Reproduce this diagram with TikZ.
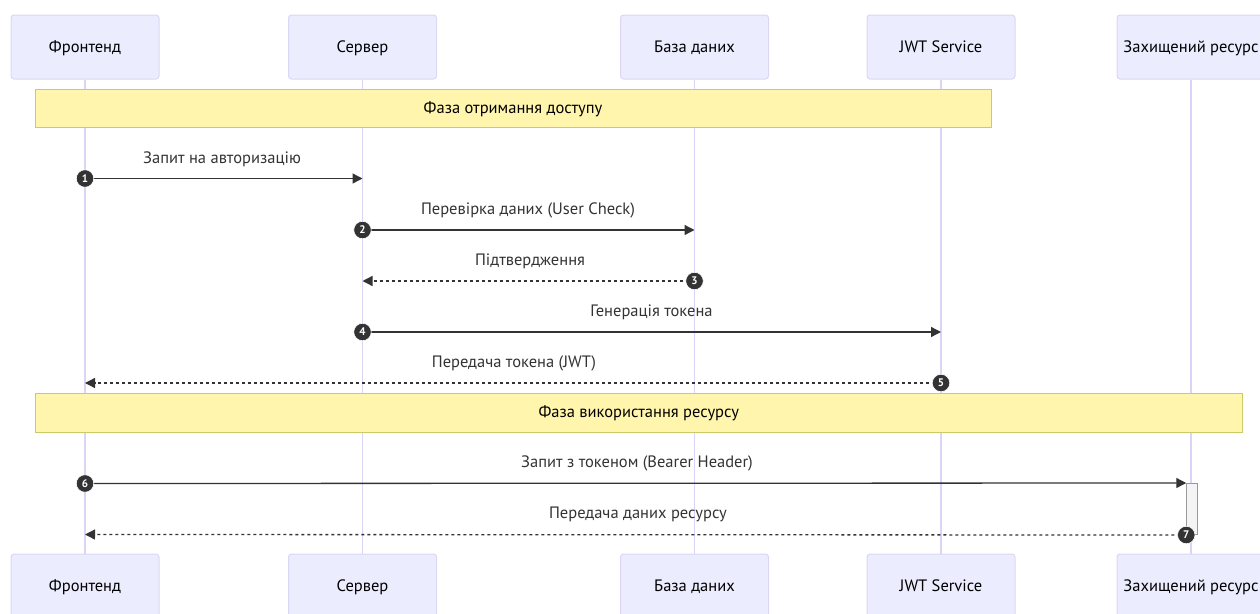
\documentclass[tikz,border=0pt]{standalone}
\usepackage{fontspec}
\setmainfont{PT Sans}
\usetikzlibrary{arrows.meta}

\definecolor{actorfill}{HTML}{ECECFF}
\definecolor{actorline}{HTML}{DCD6F5}
\definecolor{lifeline}{HTML}{DCD3F7}
\definecolor{notefill}{HTML}{FFF5AD}
\definecolor{noteline}{HTML}{CCCC66}
\definecolor{ink}{HTML}{333333}
\definecolor{actfill}{HTML}{F4F4F4}
\definecolor{actline}{HTML}{999999}

\tikzset{
  actor/.style={draw=actorline, fill=actorfill, line width=1pt, rounded corners=3pt,
    minimum width=148pt, minimum height=64pt, inner sep=0pt,
    text height=13pt, text depth=3pt,
    font=\fontsize{16.5}{19}\selectfont, text=black},
  life/.style={draw=lifeline, line width=1.3pt},
  note/.style={draw=noteline, fill=notefill, line width=1pt, inner sep=0pt,
    text height=12.5pt, text depth=3.5pt,
    font=\fontsize{16.5}{19}\selectfont, text=black},
  msg/.style={draw=ink, line width=1.3pt, -{Triangle[length=10pt,width=10pt]}},
  reply/.style={msg, dash pattern=on 3pt off 3pt},
  lbl/.style={anchor=base, inner sep=0pt, text=ink, font=\fontsize{16.5}{19}\selectfont},
  seq/.style={circle, fill=ink, draw=white, line width=0.6pt, minimum size=17.5pt, inner sep=0pt,
    text=white, font=\fontsize{11}{12}\selectfont\bfseries},
  activ/.style={draw=actline, fill=actfill, line width=1pt, minimum width=10.5pt, inner sep=0pt}
}

\begin{document}
\begin{tikzpicture}[x=1pt,y=-1pt]
  \useasboundingbox (0,0) rectangle (1260,613);

  % participants, top and bottom rows
  \node[actor] (fe)  at (85,47)    {Фронтенд};
  \node[actor] (sv)  at (362.5,47) {Сервер};
  \node[actor] (db)  at (694.5,47) {База даних};
  \node[actor] (jwt) at (941,47)   {JWT Service};
  \node[actor] (res) at (1191,47)  {Захищений ресурс};

  \node[actor] (feB)  at (85,586)    {Фронтенд};
  \node[actor] (svB)  at (362.5,586) {Сервер};
  \node[actor] (dbB)  at (694.5,586) {База даних};
  \node[actor] (jwtB) at (941,586)   {JWT Service};
  \node[actor] (resB) at (1191,586)  {Захищений ресурс};

  % lifelines
  \draw[life] (fe.south)  -- (feB.north);
  \draw[life] (sv.south)  -- (svB.north);
  \draw[life] (db.south)  -- (dbB.north);
  \draw[life] (jwt.south) -- (jwtB.north);
  \draw[life] (res.south) -- (resB.north);

  % phase notes
  \node[note, minimum width=956pt, minimum height=38.5pt] (ph1) at (513,108.5)
    {Фаза отримання доступу};
  \node[note, minimum width=1207.5pt, minimum height=39pt] (ph2) at (638.75,413)
    {Фаза використання ресурсу};

  % activation on the protected resource
  \node[activ, minimum height=51pt] (act) at (1192,509) {};

  % message anchor points
  \coordinate (a1) at (85,178.5);   \coordinate (b1) at (362.5,178.5);
  \coordinate (a2) at (362.5,230);  \coordinate (b2) at (694.5,230);
  \coordinate (a3) at (694.5,281);  \coordinate (b3) at (362.5,281);
  \coordinate (a4) at (362.5,332);  \coordinate (b4) at (941,332);
  \coordinate (a5) at (941,383);    \coordinate (b5) at (85,383);
  \coordinate (a6) at (85,483.5);   \coordinate (b6) at (act.north west);
  \coordinate (a7) at (act.south west); \coordinate (b7) at (85,534.5);

  % messages
  \draw[msg]   (a1) -- (b1);
  \draw[msg]   (a2) -- (b2);
  \draw[reply] (a3) -- (b3);
  \draw[msg]   (a4) -- (b4);
  \draw[reply] (a5) -- (b5);
  \draw[msg]   (a6) -- (b6);
  \draw[reply] (a7) -- (b7);

  % message labels
  \node[lbl] (t1) at (222,163.5)  {Запит на авторизацію};
  \node[lbl] (t2) at (528,214.5)  {Перевірка даних (User Check)};
  \node[lbl] (t3) at (530,265.5)  {Підтвердження};
  \node[lbl] (t4) at (651.5,316.5){Генерація токена};
  \node[lbl] (t5) at (514,367.5)  {Передача токена (JWT)};
  \node[lbl] (t6) at (637,467.5)  {Запит з токеном (Bearer Header)};
  \node[lbl] (t7) at (638,518.5)  {Передача даних ресурсу};

  % sequence numbers
  \node[seq] (n1) at (a1) {1};
  \node[seq] (n2) at (a2) {2};
  \node[seq] (n3) at (a3) {3};
  \node[seq] (n4) at (a4) {4};
  \node[seq] (n5) at (a5) {5};
  \node[seq] (n6) at (a6) {6};
  \node[seq] (n7) at (a7) {7};
\end{tikzpicture}
\end{document}
